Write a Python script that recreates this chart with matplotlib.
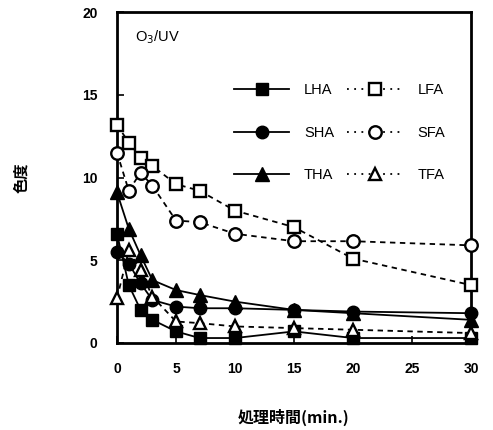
import matplotlib
matplotlib.use("Agg")
import matplotlib.pyplot as plt
from matplotlib.lines import Line2D

plt.rcParams['font.family'] = ['Liberation Sans', 'Noto Sans CJK JP', 'DejaVu Sans']

t = [0, 1, 2, 3, 5, 7, 10, 15, 20, 30]
LHA = [6.6, 3.5, 2.0, 1.4, 0.7, 0.3, 0.3, 0.7, 0.3, 0.3]
SHA = [5.5, 4.8, 3.6, 2.6, 2.2, 2.1, 2.1, 2.0, 1.9, 1.8]
THA = [9.1, 6.9, 5.3, 3.8, 3.2, 2.9, 2.5, 2.0, 1.8, 1.4]
LFA = [13.2, 12.1, 11.2, 10.7, 9.6, 9.2, 8.0, 7.0, 5.1, 3.5]
SFA = [11.5, 9.2, 10.3, 9.5, 7.4, 7.3, 6.6, 6.15, 6.15, 5.9]
TFA = [2.7, 5.6, 4.4, 2.8, 1.3, 1.2, 1.0, 0.9, 0.8, 0.6]

xticks = [0, 5, 10, 15, 20, 25, 30]
yticks = [0, 5, 10, 15, 20]

fig = plt.figure(figsize=(4.93, 4.30), dpi=100)
ax = fig.add_axes([117/493, 1-343/430, (471-117)/493, (343-12)/430])

ms = 9
ax.plot(t, LHA, '-', color='black', lw=1.3, marker='s', ms=ms, mfc='black', mec='black', clip_on=False, zorder=3)
ax.plot(t, SHA, '-', color='black', lw=1.3, marker='o', ms=ms, mfc='black', mec='black', clip_on=False, zorder=3)
ax.plot(t, THA, '-', color='black', lw=1.3, marker='^', ms=ms+1, mfc='black', mec='black', clip_on=False, zorder=3)
dash = (0, (3, 2.5))
ax.plot(t, LFA, linestyle=dash, color='black', lw=1.3, marker='s', ms=ms, mfc='white', mec='black', mew=1.7, clip_on=False, zorder=4)
ax.plot(t, SFA, linestyle=dash, color='black', lw=1.3, marker='o', ms=ms, mfc='white', mec='black', mew=1.7, clip_on=False, zorder=4)
ax.plot(t, TFA, linestyle=dash, color='black', lw=1.3, marker='^', ms=ms, mfc='white', mec='black', mew=1.7, clip_on=False, zorder=4)

ax.set_xlim(0, 30)
ax.set_ylim(0, 20)
ax.set_xticks(xticks)
ax.set_yticks(yticks)
ax.tick_params(direction='in', length=5, width=1.2, top=False, right=False, labelsize=10, pad=14)
for lab in ax.get_xticklabels() + ax.get_yticklabels():
    lab.set_fontweight('bold')
for s in ax.spines.values():
    s.set_linewidth(2)

ax.text(0.05, 0.95, 'O$_3$/UV', transform=ax.transAxes, fontsize=10.5, va='top', ha='left')

dot = (0, (1, 3))
handles = [
    Line2D([], [], color='black', lw=1.3, marker='s', ms=ms, mfc='black'),
    Line2D([], [], color='black', lw=1.3, marker='o', ms=ms, mfc='black'),
    Line2D([], [], color='black', lw=1.3, marker='^', ms=ms+1, mfc='black'),
    Line2D([], [], color='black', lw=1.3, linestyle=dot, marker='s', ms=ms, mfc='white', mew=1.7),
    Line2D([], [], color='black', lw=1.3, linestyle=dot, marker='o', ms=ms, mfc='white', mew=1.7),
    Line2D([], [], color='black', lw=1.3, linestyle=dot, marker='^', ms=ms, mfc='white', mew=1.7),
]
labels = ['LHA', 'SHA', 'THA', 'LFA', 'SFA', 'TFA']
leg = ax.legend(handles, labels, ncol=2, frameon=False, loc='upper left',
                bbox_to_anchor=(0.31, 0.807), handlelength=3.8, handletextpad=1.0,
                columnspacing=0.9, labelspacing=1.95, fontsize=10.5, borderpad=0)

ax.set_xlabel('処理時間(min.)', fontsize=11.5, fontweight='bold', labelpad=23,
              family=['Noto Sans CJK JP', 'DejaVu Sans'])
ax.set_ylabel('色度', fontsize=11, fontweight='bold', labelpad=38,
              family=['Noto Sans CJK JP', 'DejaVu Sans'])

fig.savefig('out.png', dpi=100)
